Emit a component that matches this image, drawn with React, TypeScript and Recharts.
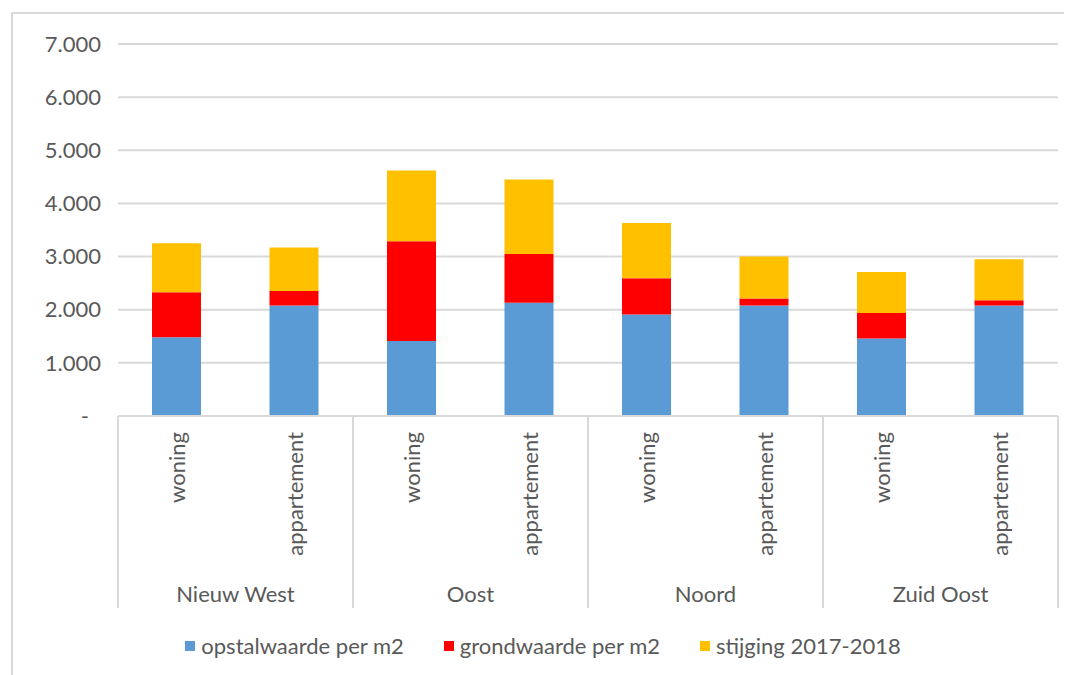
import React from "react"
import { Bar, BarChart, CartesianGrid, Legend, XAxis, YAxis } from "recharts"

const districts = ["Nieuw West", "Oost", "Noord", "Zuid Oost"]
const types = ["woning", "appartement"]

const opstalwaarde = [1480, 2080, 1410, 2130, 1910, 2080, 1460, 2080]
const grondwaarde = [850, 270, 1880, 920, 680, 130, 480, 100]
const stijging = [920, 820, 1330, 1400, 1040, 790, 770, 770]

const yTicks = [0, 1000, 2000, 3000, 4000, 5000, 6000, 7000]

const series = [
  { key: "opstal", name: "opstalwaarde per m2", color: "#5b9bd5" },
  { key: "grond", name: "grondwaarde per m2", color: "#ff0000" },
  { key: "stijging", name: "stijging 2017-2018", color: "#ffc000" },
]

const data = opstalwaarde.map((v, i) => ({
  district: districts[Math.floor(i / types.length)],
  type: types[i % types.length],
  opstal: v,
  grond: grondwaarde[i],
  stijging: stijging[i],
}))

const FONT = "Lato, 'Liberation Sans', sans-serif"
const TEXT = "#595959"
const LINE = "#d9d9d9"
const SLOT = 940 / data.length
const FS = 22

const fmt = (v: number) => String(v).replace(/\B(?=(\d{3})+(?!\d))/g, ".")

function YTick({ x, y, payload }: any) {
  const v = payload.value
  return (
    <text
      x={v === 0 ? x - 12 : x}
      y={y}
      dy="0.35em"
      textAnchor="end"
      fill={TEXT}
      fontSize={FS}
      fontFamily={FONT}
    >
      {v === 0 ? "-" : fmt(v)}
    </text>
  )
}

function XTick({ x, y, payload, index }: any) {
  const d = data[index]
  return (
    <g>
      <text
        transform={`translate(${x + 1},${y + 16}) rotate(-90)`}
        dy="0.35em"
        textAnchor="end"
        fill={TEXT}
        fontSize={FS}
        fontFamily={FONT}
      >
        {payload.value}
      </text>
      {index % 2 === 0 && (
        <>
          <line x1={x - SLOT / 2} x2={x - SLOT / 2} y1={y} y2={y + 192} stroke={LINE} strokeWidth={2} />
          <text
            x={x + SLOT / 2}
            y={y + 178}
            dy="0.35em"
            textAnchor="middle"
            fill={TEXT}
            fontSize={FS}
            fontFamily={FONT}
          >
            {d.district}
          </text>
        </>
      )}
      {index === data.length - 1 && (
        <line x1={x + SLOT / 2} x2={x + SLOT / 2} y1={y} y2={y + 192} stroke={LINE} strokeWidth={2} />
      )}
    </g>
  )
}

function LegendContent() {
  return (
    <div style={{ display: "flex", justifyContent: "center", gap: 40, fontFamily: FONT, fontSize: FS, color: TEXT }}>
      {series.map((s) => (
        <div key={s.key} style={{ display: "flex", alignItems: "center" }}>
          <span style={{ width: 10, height: 10, background: s.color, marginRight: 6, display: "inline-block" }} />
          <span>{s.name}</span>
        </div>
      ))}
    </div>
  )
}

export default function App() {
  return (
    <div
      style={{
        marginLeft: 3,
        marginTop: 4,
        width: 1061,
        height: 663,
        borderLeft: `2px solid ${LINE}`,
        borderTop: `2px solid ${LINE}`,
        boxSizing: "border-box",
      }}
    >
      <BarChart
        width={1060}
        height={660}
        data={data}
        margin={{ top: 30, right: 15, left: 0, bottom: 66 }}
      >
        <CartesianGrid vertical={false} stroke={LINE} strokeWidth={2} />
        <XAxis
          dataKey="type"
          interval={0}
          height={192}
          tickLine={false}
          tickSize={0}
          tickMargin={0}
          axisLine={{ stroke: LINE, strokeWidth: 2 }}
          tick={<XTick />}
        />
        <YAxis
          width={105}
          domain={[0, 7000]}
          ticks={yTicks}
          axisLine={false}
          tickLine={false}
          tickSize={0}
          tickMargin={17}
          tick={<YTick />}
        />
        <Legend
          verticalAlign="middle"
          layout="horizontal"
          align="center"
          wrapperStyle={{ top: 618, left: 0, width: 1060 }}
          content={<LegendContent />}
        />
        {series.map((s) => (
          <Bar
            key={s.key}
            dataKey={s.key}
            name={s.name}
            stackId="a"
            fill={s.color}
            barSize={49}
            isAnimationActive={false}
          />
        ))}
      </BarChart>
    </div>
  )
}
